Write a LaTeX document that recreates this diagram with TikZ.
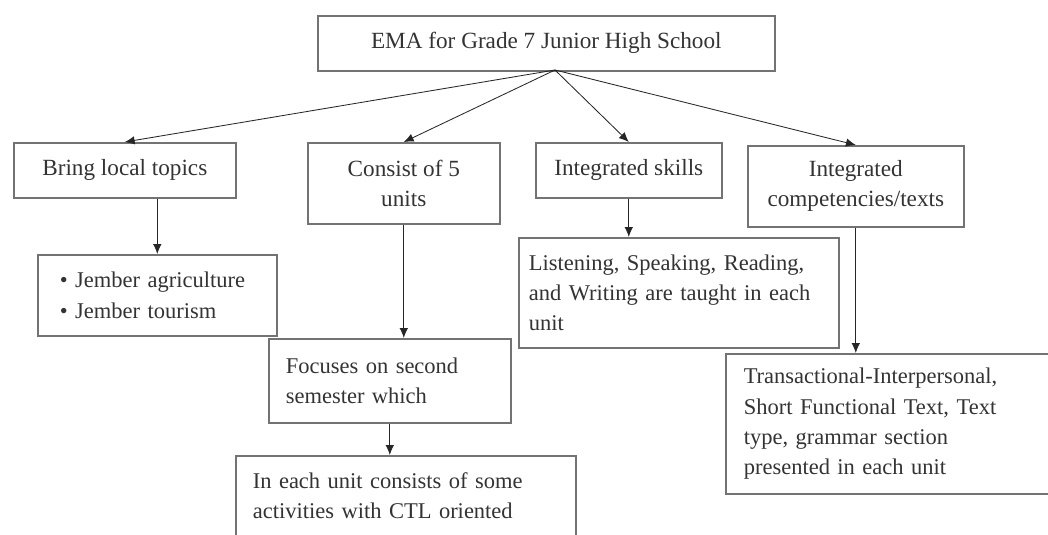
\documentclass[tikz,border=0pt]{standalone}
\usepackage{fontspec}
\setmainfont{Liberation Serif}
\usetikzlibrary{arrows.meta}

\begin{document}
\begin{tikzpicture}[x=0.025cm, y=-0.025cm, semithick,
    box/.style={draw=black!55, line width=1.1pt, text=black!80, anchor=north west,
      inner sep=0pt, font=\fontsize{16.5}{21.5}\selectfont},
    title/.style={box, align=center},
    note/.style={box, align=left, font=\fontsize{16}{21.5}\selectfont},
    arr/.style={->, >={Latex[length=7pt, width=6pt]}, black!85}]
  \useasboundingbox (0,0) rectangle (1048,534);
  \clip (0,0) rectangle (1048,534);
  % top
  \node[title, minimum width=11.425cm, minimum height=1.375cm] (ema) at (317,15)
    {EMA for Grade 7 Junior High School};
  \coordinate (hub) at (555,70);
  % second row
  \node[title, minimum width=5.55cm, minimum height=1.375cm] (bring) at (13,142)
    {Bring local topics};
  \node[title, minimum width=4.8cm, minimum height=2.025cm] (consist) at (307,142)
    {Consist of 5\\units};
  \node[title, minimum width=4.65cm, minimum height=1.375cm] (skills) at (535,142)
    {Integrated skills};
  \node[title, minimum width=5.4cm, minimum height=2.025cm] (comp) at (747,145)
    {Integrated\\competencies/texts};
  % lower boxes
  \node[note, text width=4.875cm, inner xsep=0.55cm, minimum height=2.025cm] (bullets) at (37,254)
    {\textbullet\ Jember agriculture\\\textbullet\ Jember tourism};
  \node[note, text width=7.5cm, inner xsep=0.25cm, minimum height=2.75cm] (listen) at (518,237)
    {Listening, Speaking, Reading,\\and Writing are taught in each\\unit};
  \node[note, text width=5.2cm, inner xsep=0.425cm, minimum height=2.1cm] (focus) at (268,338)
    {Focuses on second\\semester which};
  \node[note, text width=7.65cm, inner xsep=0.425cm, minimum height=2.75cm] (each) at (235,455)
    {In each unit consists of some\\activities with CTL oriented\\\mbox{}};
  \node[note, text width=9.1cm, inner xsep=0.45cm, minimum height=3.5cm] (trans) at (725,353)
    {Transactional-Interpersonal,\\Short Functional Text, Text\\type, grammar section\\presented in each unit};
  % arrows
  \draw[arr] (hub) -- (bring.north);
  \draw[arr] (hub) -- (consist.north);
  \draw[arr] (hub) -- (skills.north);
  \draw[arr] (hub) -- (comp.north);
  \draw[arr] (bring.south -| bullets.north) -- (bullets.north);
  \draw[arr] (consist.south) -- (consist.south |- focus.north);
  \draw[arr] (skills.south) -- (skills.south |- listen.north);
  \draw[arr] (comp.south) -- (comp.south |- trans.north);
  \draw[arr] (focus.south) -- (focus.south |- each.north);
\end{tikzpicture}
\end{document}
